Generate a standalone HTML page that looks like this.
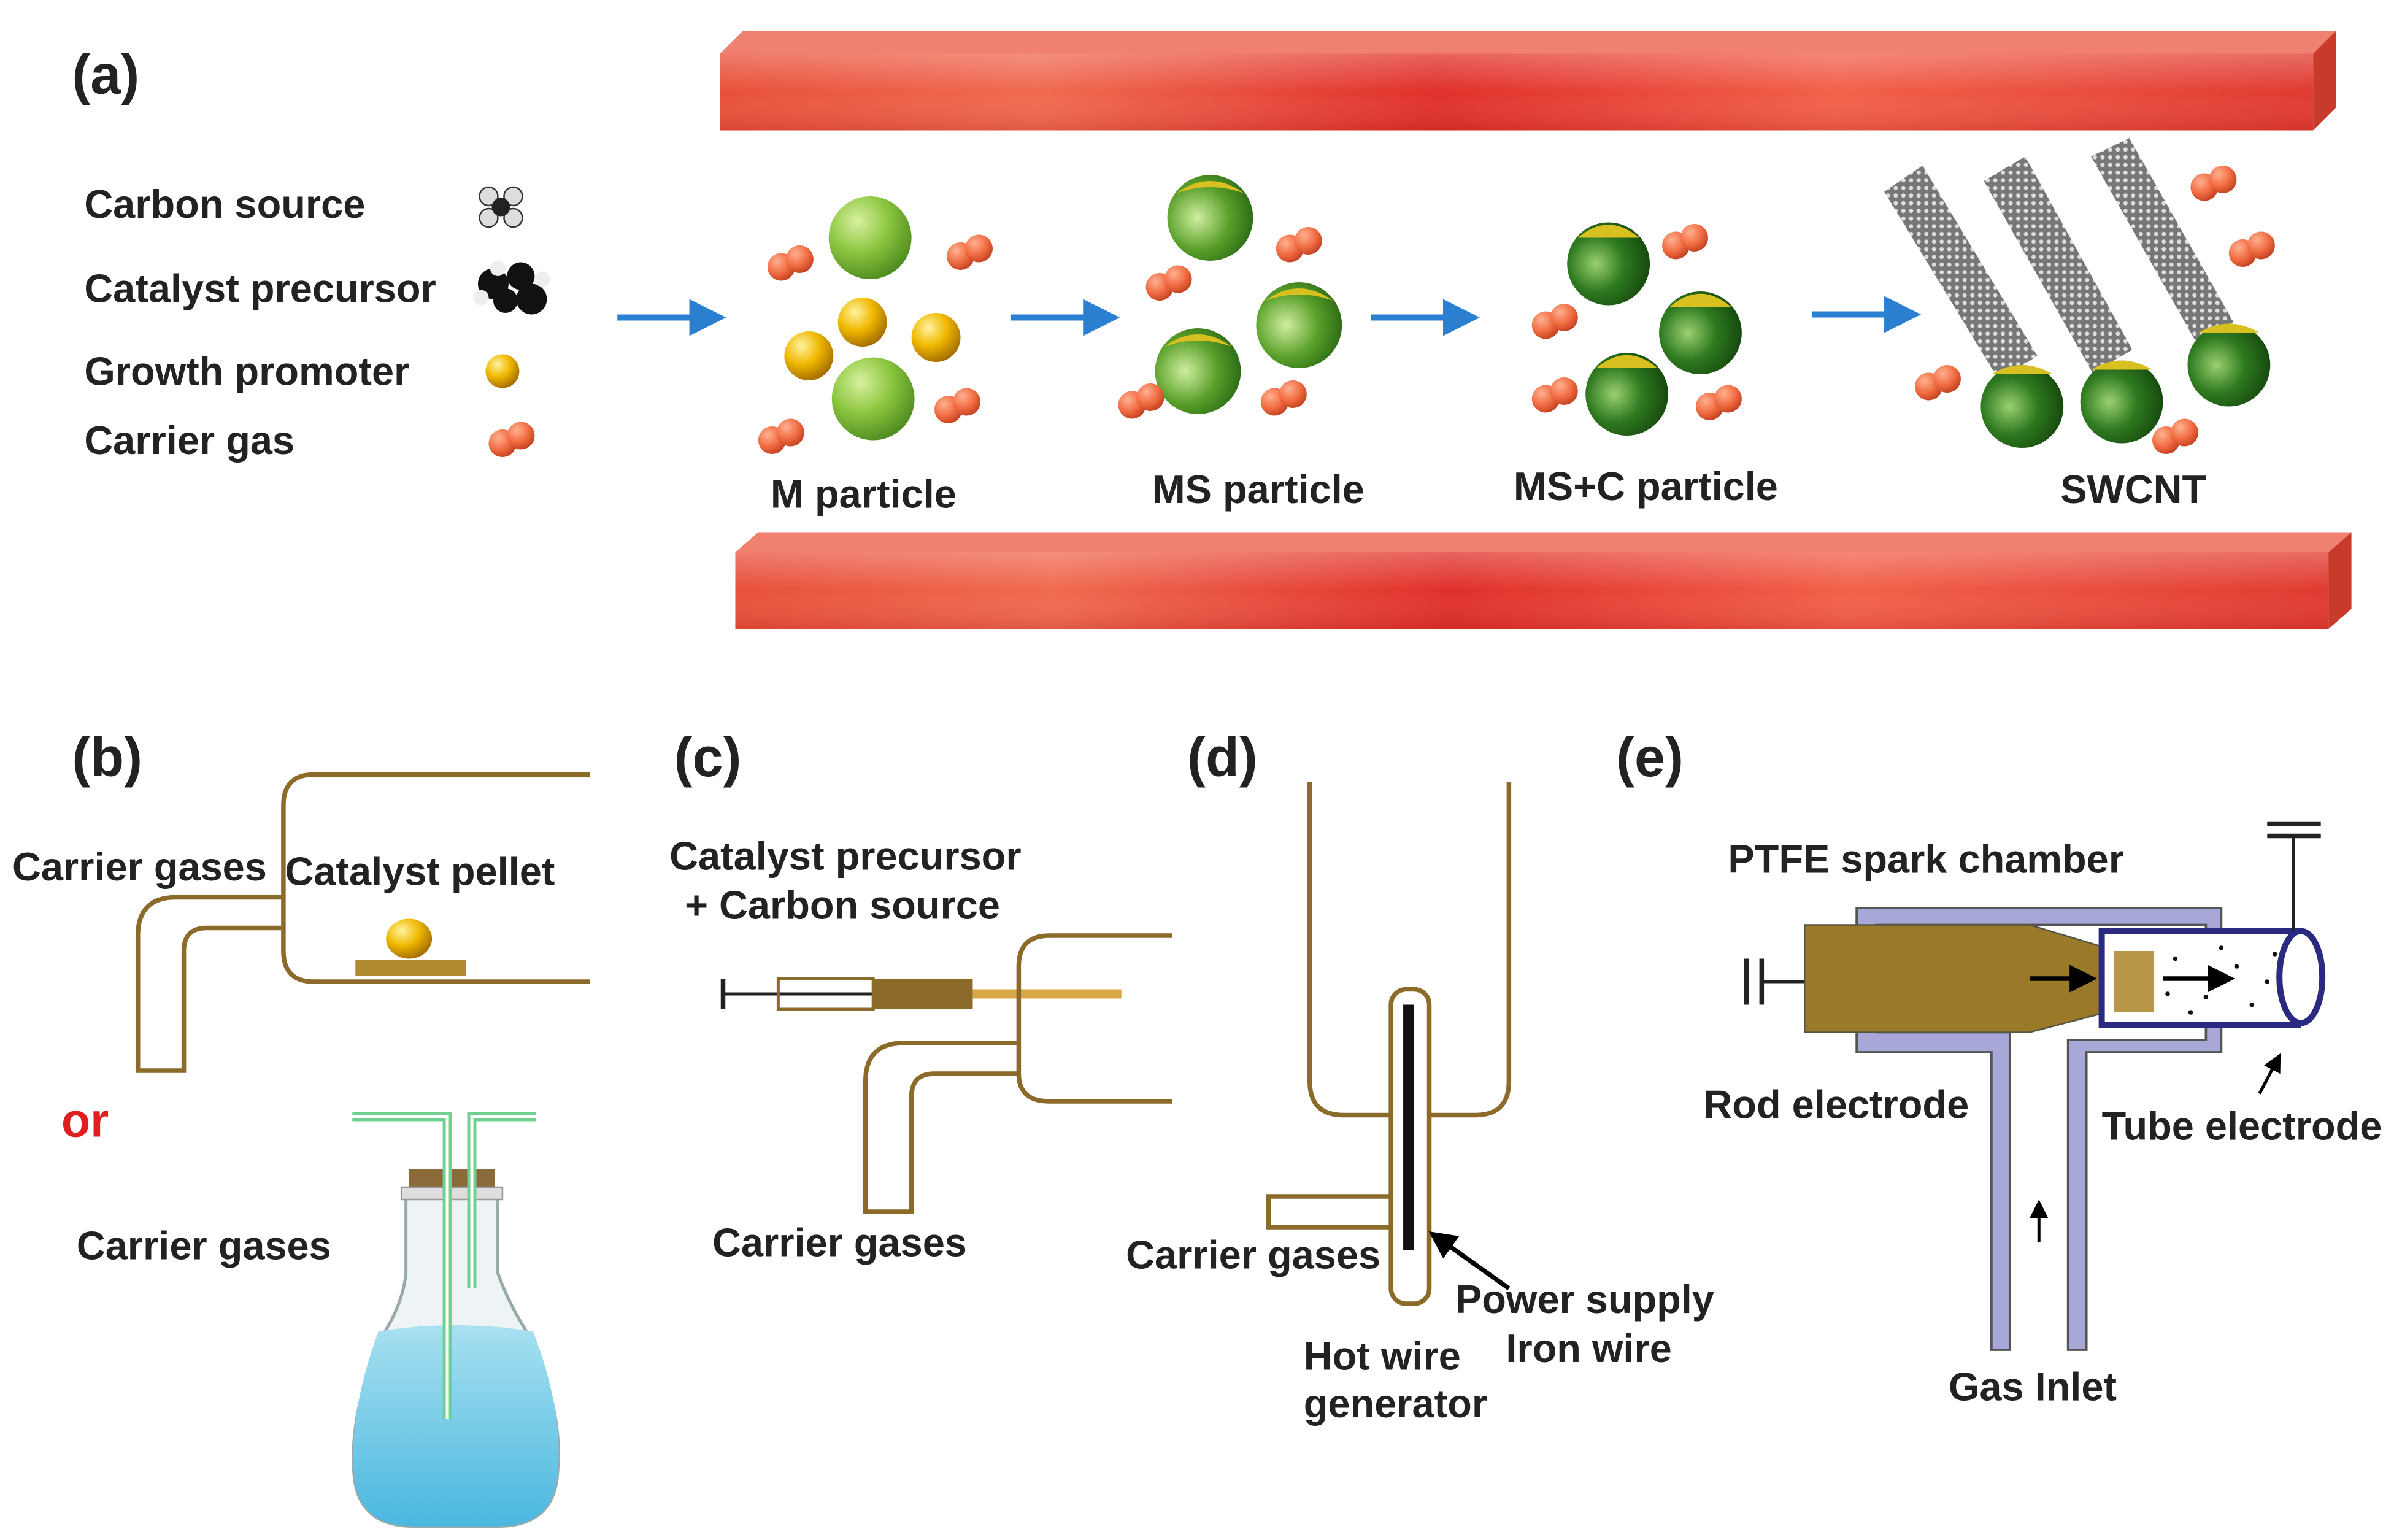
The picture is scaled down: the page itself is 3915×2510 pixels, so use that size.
<!DOCTYPE html>
<html><head><meta charset="utf-8"><style>
html,body{margin:0;padding:0;background:#fff;}
svg{display:block;}
text{font-family:"Liberation Sans",Arial,sans-serif;font-weight:bold;fill:#222;}
</style></head><body>
<svg width="3915" height="2510" viewBox="0 0 1568 1004" preserveAspectRatio="none" xmlns="http://www.w3.org/2000/svg">
<defs>
<linearGradient id="red" x1="0" y1="0" x2="1" y2="0">
<stop offset="0" stop-color="#e8503a"/><stop offset="0.2" stop-color="#f06a50"/><stop offset="0.45" stop-color="#e0302a"/><stop offset="0.7" stop-color="#f2604a"/><stop offset="1" stop-color="#e03a30"/></linearGradient>
<linearGradient id="redv" x1="0" y1="0" x2="0" y2="1"><stop offset="0" stop-color="#fff" stop-opacity="0.25"/><stop offset="0.5" stop-color="#fff" stop-opacity="0"/><stop offset="1" stop-color="#800" stop-opacity="0.15"/></linearGradient>
<radialGradient id="lg" cx="0.35" cy="0.3" r="0.75"><stop offset="0" stop-color="#d8f0a0"/><stop offset="0.5" stop-color="#8cc63f"/><stop offset="1" stop-color="#4d8a1e"/></radialGradient>
<radialGradient id="mg" cx="0.35" cy="0.5" r="0.75"><stop offset="0" stop-color="#d0eea0"/><stop offset="0.5" stop-color="#5aa02a"/><stop offset="1" stop-color="#1e5a10"/></radialGradient>
<radialGradient id="dg" cx="0.35" cy="0.5" r="0.75"><stop offset="0" stop-color="#9ad070"/><stop offset="0.45" stop-color="#2f7a20"/><stop offset="1" stop-color="#0e3a08"/></radialGradient>
<radialGradient id="yg" cx="0.35" cy="0.3" r="0.75"><stop offset="0" stop-color="#fff3a0"/><stop offset="0.5" stop-color="#f0b800"/><stop offset="1" stop-color="#a06a00"/></radialGradient>
<radialGradient id="og" cx="0.35" cy="0.3" r="0.75"><stop offset="0" stop-color="#ffb090"/><stop offset="0.6" stop-color="#f06a40"/><stop offset="1" stop-color="#c04020"/></radialGradient>
<linearGradient id="water" x1="0" y1="0" x2="0" y2="1"><stop offset="0" stop-color="#a8e0f0"/><stop offset="1" stop-color="#4ab8e0"/></linearGradient>
<pattern id="mesh" width="5" height="5" patternUnits="userSpaceOnUse"><rect width="5" height="5" fill="#777"/><circle cx="2.5" cy="2.5" r="1.4" fill="#ddd"/></pattern>
<marker id="ab" markerWidth="6" markerHeight="6" refX="3" refY="3" orient="auto"><path d="M0,0 L6,3 L0,6 z" fill="#2a7fd0"/></marker>
<marker id="ak" markerWidth="6" markerHeight="6" refX="3" refY="3" orient="auto"><path d="M0,0 L6,3 L0,6 z" fill="#000"/></marker>
<g id="og2"><circle cx="-6" cy="2" r="9" fill="url(#og)"/><circle cx="6" cy="-3" r="9" fill="url(#og)"/></g>
</defs>

<!-- (a) -->
<text x="47" y="61" font-size="36" font-weight="normal">(a)</text>
<polygon points="470,35 485,20 1525,20 1510,35" fill="#f08070"/>
<rect x="470" y="35" width="1040" height="50" fill="url(#red)"/>
<rect x="470" y="35" width="1040" height="50" fill="url(#redv)"/>
<polygon points="1510,35 1525,20 1525,70 1510,85" fill="#c83a2a"/>
<polygon points="480,360 495,347 1535,347 1520,360" fill="#f08070"/>
<rect x="480" y="360" width="1040" height="50" fill="url(#red)"/>
<rect x="480" y="360" width="1040" height="50" fill="url(#redv)"/>
<polygon points="1520,360 1535,347 1535,397 1520,410" fill="#c83a2a"/>

<text x="55" y="142" font-size="26">Carbon source</text>
<text x="55" y="197" font-size="26">Catalyst precursor</text>
<text x="55" y="251" font-size="26">Growth promoter</text>
<text x="55" y="296" font-size="26">Carrier gas</text>
<g><circle cx="319" cy="128" r="6" fill="#ddd" stroke="#333"/><circle cx="335" cy="128" r="6" fill="#ddd" stroke="#333"/><circle cx="319" cy="142" r="6" fill="#ddd" stroke="#333"/><circle cx="335" cy="142" r="6" fill="#ddd" stroke="#333"/><circle cx="327" cy="135" r="6" fill="#222"/></g>
<g fill="#111"><circle cx="322" cy="185" r="10"/><circle cx="340" cy="180" r="9"/><circle cx="347" cy="195" r="10"/><circle cx="330" cy="196" r="8"/><circle cx="314" cy="194" r="5" fill="#eee"/><circle cx="354" cy="182" r="5" fill="#eee"/><circle cx="325" cy="175" r="5" fill="#eee"/></g>
<circle cx="328" cy="242" r="11" fill="url(#yg)"/>
<use href="#og2" x="334" y="287"/>

<g stroke="#2a7fd0" stroke-width="4" marker-end="url(#ab)"><line x1="403" y1="207" x2="462" y2="207"/><line x1="660" y1="207" x2="719" y2="207"/><line x1="895" y1="207" x2="954" y2="207"/><line x1="1183" y1="205" x2="1242" y2="205"/></g>

<circle cx="568" cy="155" r="27" fill="url(#lg)"/>
<circle cx="570" cy="260" r="27" fill="url(#lg)"/>
<circle cx="563" cy="210" r="16" fill="url(#yg)"/>
<circle cx="528" cy="232" r="16" fill="url(#yg)"/>
<circle cx="611" cy="220" r="16" fill="url(#yg)"/>
<use href="#og2" x="516" y="172"/><use href="#og2" x="633" y="165"/><use href="#og2" x="510" y="285"/><use href="#og2" x="625" y="265"/>
<text x="503" y="331" font-size="26">M particle</text>

<g><circle cx="790" cy="142" r="28" fill="url(#mg)"/><path d="M768,126 Q790,110 812,126 Q790,118 768,126z" fill="#d8c020"/></g>
<g><circle cx="848" cy="212" r="28" fill="url(#mg)"/><path d="M826,196 Q848,180 870,196 Q848,188 826,196z" fill="#d8c020"/></g>
<g><circle cx="782" cy="242" r="28" fill="url(#mg)"/><path d="M760,226 Q782,210 804,226 Q782,218 760,226z" fill="#d8c020"/></g>
<use href="#og2" x="848" y="160"/><use href="#og2" x="763" y="185"/><use href="#og2" x="745" y="262"/><use href="#og2" x="838" y="260"/>
<text x="752" y="328" font-size="26">MS particle</text>

<g><circle cx="1050" cy="172" r="27" fill="url(#dg)"/><path d="M1030,155 Q1050,138 1070,155z" fill="#d8c020"/></g>
<g><circle cx="1110" cy="217" r="27" fill="url(#dg)"/><path d="M1090,200 Q1110,183 1130,200z" fill="#d8c020"/></g>
<g><circle cx="1062" cy="257" r="27" fill="url(#dg)"/><path d="M1042,240 Q1062,223 1082,240z" fill="#d8c020"/></g>
<use href="#og2" x="1100" y="158"/><use href="#og2" x="1015" y="210"/><use href="#og2" x="1015" y="258"/><use href="#og2" x="1122" y="263"/>
<text x="988" y="326" font-size="26">MS+C particle</text>

<g>
<polygon points="1230,125 1255,108 1330,232 1305,248" fill="url(#mesh)"/>
<polygon points="1295,118 1322,102 1392,228 1366,243" fill="url(#mesh)"/>
<polygon points="1365,102 1390,90 1458,210 1433,222" fill="url(#mesh)"/>
<circle cx="1320" cy="265" r="27" fill="url(#dg)"/><path d="M1300,244 Q1320,232 1340,244z" fill="#d8c020"/>
<circle cx="1385" cy="262" r="27" fill="url(#dg)"/><path d="M1365,241 Q1385,229 1405,241z" fill="#d8c020"/>
<circle cx="1455" cy="238" r="27" fill="url(#dg)"/><path d="M1435,217 Q1455,205 1475,217z" fill="#d8c020"/>
</g>
<use href="#og2" x="1445" y="120"/><use href="#og2" x="1470" y="163"/><use href="#og2" x="1265" y="250"/><use href="#og2" x="1420" y="285"/>
<text x="1345" y="328" font-size="26">SWCNT</text>

<!-- (b) -->
<text x="47" y="506" font-size="36" font-weight="normal">(b)</text>
<g fill="none" stroke="#8b6a2a" stroke-width="3">
<path d="M385,505 H205 Q185,505 185,525 V620 Q185,640 205,640 H385"/>
<path d="M185,585 H115 Q90,585 90,610 V698 H120 V620 Q120,605 135,605 H185"/>
</g>
<rect x="232" y="626" width="72" height="10" fill="#b08a30"/>
<ellipse cx="267" cy="612" rx="15" ry="13" fill="url(#yg)"/>
<text x="8" y="574" font-size="26">Carrier gases</text>
<text x="186" y="577" font-size="26">Catalyst pellet</text>
<text x="40" y="741" font-size="31" style="fill:#e02020">or</text>
<text x="50" y="821" font-size="26">Carrier gases</text>
<path d="M265,780 H325 V830 Q332,850 345,870 Q368,920 364,960 Q362,995 325,995 H270 Q233,995 231,960 Q228,920 250,870 Q263,850 265,830 Z" fill="#eef4f6" stroke="#9aa" stroke-width="2"/>
<path d="M247,868 Q297,860 348,868 Q368,920 364,960 Q362,995 325,995 H270 Q233,995 231,960 Q228,920 247,868 Z" fill="url(#water)"/>
<rect x="267" y="762" width="56" height="16" fill="#8b6a3a"/>
<rect x="262" y="774" width="66" height="8" fill="#ddd" stroke="#999"/>
<g fill="none" stroke="#70d090" stroke-width="6"><path d="M230,728 H292 V925"/><path d="M350,728 H308 V840"/></g>
<g fill="none" stroke="#fff" stroke-width="2"><path d="M230,728 H292 V925"/><path d="M350,728 H308 V840"/></g>

<!-- (c) -->
<text x="440" y="506" font-size="36" font-weight="normal">(c)</text>
<text x="437" y="567" font-size="26">Catalyst precursor</text>
<text x="447" y="599" font-size="26">+ Carbon source</text>
<line x1="472" y1="638" x2="472" y2="658" stroke="#222" stroke-width="3"/>
<line x1="472" y1="648" x2="570" y2="648" stroke="#222" stroke-width="2"/>
<rect x="508" y="638" width="62" height="20" fill="none" stroke="#8b6a2a" stroke-width="2"/>
<rect x="570" y="638" width="65" height="20" fill="#8b6a2a"/>
<rect x="635" y="645" width="97" height="6" fill="#d8a848"/>
<g fill="none" stroke="#8b6a2a" stroke-width="3">
<path d="M765,610 H685 Q665,610 665,630 V700 Q665,718 685,718 H765"/>
<path d="M665,680 H590 Q565,680 565,705 V790 H595 V715 Q595,700 610,700 H665"/>
</g>
<text x="465" y="819" font-size="26">Carrier gases</text>

<!-- (d) -->
<text x="775" y="506" font-size="36" font-weight="normal">(d)</text>
<path d="M855,510 V705 Q855,727 877,727 H963 Q985,727 985,705 V510" fill="none" stroke="#8b6a2a" stroke-width="3"/>
<rect x="908" y="645" width="25" height="205" rx="10" fill="#fff" stroke="#8b6a2a" stroke-width="3"/>
<rect x="916" y="655" width="7" height="160" fill="#111"/>
<rect x="828" y="780" width="80" height="20" fill="#fff" stroke="#8b6a2a" stroke-width="3"/>
<line x1="985" y1="840" x2="940" y2="808" stroke="#000" stroke-width="3" marker-end="url(#ak)"/>
<text x="735" y="827" font-size="26">Carrier gases</text>
<text x="950" y="856" font-size="26">Power supply</text>
<text x="983" y="888" font-size="26">Iron wire</text>
<text x="851" y="893" font-size="26">Hot wire</text>
<text x="851" y="924" font-size="26">generator</text>

<!-- (e) -->
<text x="1055" y="506" font-size="36" font-weight="normal">(e)</text>
<text x="1128" y="569" font-size="26">PTFE spark chamber</text>
<path d="M1212,592 H1450 V686 H1362 V880 H1350 V678 H1440 V603 H1225 V673 H1312 V880 H1300 V686 H1212 Z" fill="#a8a8d8" stroke="#555" stroke-width="1.5"/>
<path d="M1178,603 H1325 L1375,618 V660 L1325,673 H1178 Z" fill="#9a7a28" stroke="#554" stroke-width="1"/>
<rect x="1372" y="607" width="128" height="61" fill="#fff" stroke="#2a2a80" stroke-width="4"/>
<ellipse cx="1502" cy="637" rx="14" ry="30" fill="#fff" stroke="#2a2a80" stroke-width="4"/>
<rect x="1380" y="620" width="26" height="40" fill="#b8964a"/>
<g fill="#111"><circle cx="1420" cy="625" r="1.5"/><circle cx="1440" cy="650" r="1.5"/><circle cx="1460" cy="630" r="1.5"/><circle cx="1470" cy="655" r="1.5"/><circle cx="1450" cy="618" r="1.5"/><circle cx="1480" cy="640" r="1.5"/><circle cx="1430" cy="660" r="1.5"/><circle cx="1485" cy="622" r="1.5"/><circle cx="1415" cy="648" r="1.5"/></g>
<line x1="1325" y1="638" x2="1360" y2="638" stroke="#000" stroke-width="3" marker-end="url(#ak)"/>
<line x1="1412" y1="638" x2="1450" y2="638" stroke="#000" stroke-width="3" marker-end="url(#ak)"/>
<line x1="1150" y1="640" x2="1178" y2="640" stroke="#222" stroke-width="2"/>
<line x1="1140" y1="625" x2="1140" y2="655" stroke="#222" stroke-width="3"/>
<line x1="1150" y1="625" x2="1150" y2="655" stroke="#222" stroke-width="3"/>
<line x1="1497" y1="545" x2="1497" y2="607" stroke="#222" stroke-width="2"/>
<line x1="1480" y1="537" x2="1515" y2="537" stroke="#222" stroke-width="3"/>
<line x1="1480" y1="545" x2="1515" y2="545" stroke="#222" stroke-width="3"/>
<line x1="1331" y1="810" x2="1331" y2="788" stroke="#000" stroke-width="2" marker-end="url(#ak)"/>
<line x1="1475" y1="713" x2="1486" y2="692" stroke="#000" stroke-width="2" marker-end="url(#ak)"/>
<text x="1112" y="729" font-size="26">Rod electrode</text>
<text x="1372" y="743" font-size="26">Tube electrode</text>
<text x="1272" y="913" font-size="26">Gas Inlet</text>
</svg>
</body></html>
